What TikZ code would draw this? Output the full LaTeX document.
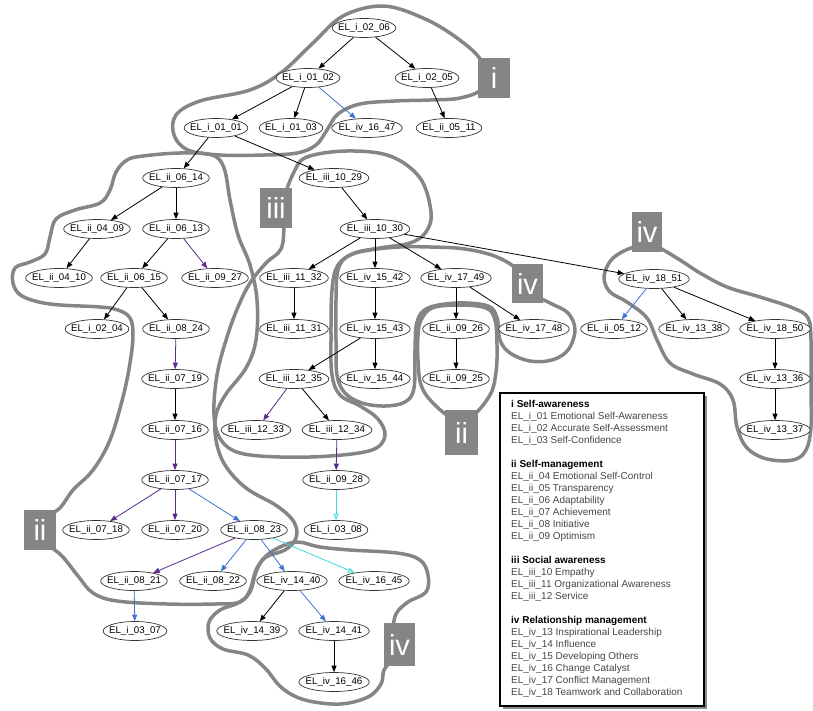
\documentclass[tikz,border=0pt]{standalone}
\usepackage{fontspec}
\setmainfont{Liberation Sans}
\usetikzlibrary{arrows.meta,shapes.geometric}
\definecolor{blobgray}{HTML}{858585}
\definecolor{edgeblue}{HTML}{3F73D0}
\definecolor{edgepurple}{HTML}{5A2A8C}
\definecolor{edgecyan}{HTML}{3FD8DC}
\newcommand\ELx[3]{EL\_#1\_#2\_#3}
\begin{document}
\begin{tikzpicture}[x=1pt,y=-1pt,
  el/.style={ellipse, draw=black!80, line width=0.7pt, fill=white,
    font=\fontsize{9.7}{11}\selectfont, inner xsep=-3.4pt, inner ysep=1.2pt,
    text height=6.8pt, text depth=2pt, minimum height=19pt},
  blob/.style={draw=blobgray, line width=3.5pt, line join=round},
  tag/.style={rectangle, fill=blobgray, text=white, font=\fontsize{29}{30}\selectfont,
    inner sep=0pt, minimum width=32pt, minimum height=40pt},
  ek/.style={draw=black, line width=0.8pt, -{Triangle[length=6.5pt,width=5pt]}},
  eb/.style={draw=edgeblue, line width=0.8pt, -{Triangle[length=6.5pt,width=5pt]}},
  ep/.style={draw=edgepurple, line width=0.8pt, -{Triangle[length=6.5pt,width=5pt]}},
  ec/.style={draw=edgecyan, line width=0.8pt, -{Triangle[length=6.5pt,width=5pt,fill=edgecyan!30]}},
  legendbox/.style={draw=black, line width=1.2pt, fill=white},
]
\useasboundingbox (0,0) rectangle (813,711);

% ---------------- blobs ----------------
% i
\draw[blob] plot[smooth cycle, tension=0.6] coordinates {
 (383,6) (423,18) (457,38) (482,62) (482,88) (460,98) (430,100) (395,101) (360,104)
 (338,114) (327,130) (316,145) (297,153) (265,155) (220,155) (188,150) (174,135)
 (176,115) (200,101) (250,90) (282,72) (313,43) (343,16)};
% ii (left)
\draw[blob] plot[smooth cycle, tension=0.6] coordinates {
 (143,156) (180,153) (212,155) (224,168) (230,200) (238,235) (250,265) (257,300)
 (256,340) (246,368) (226,394) (216,415) (216,440) (225,465) (246,488) (277,506)
 (294,522) (296,538) (285,550) (266,557) (256,570) (250,590) (240,602) (215,604)
 (167,604) (117,601) (93,593) (78,576) (62,556) (44,540) (44,520) (60,508) (73,490)
 (93,470) (110,440) (123,397) (130,363) (133,335) (130,318) (118,310) (100,307)
 (50,304) (22,296) (13,283) (15,268) (30,262) (45,254) (50,237) (56,219) (75,210)
 (100,203) (110,190) (116,172) (127,160)};
% iii
\draw[blob] plot[smooth cycle, tension=0.6] coordinates {
 (284,200) (294,172) (307,157) (347,151) (390,156) (420,178) (431,212) (426,232)
 (410,243) (380,248) (355,253) (338,265) (332,290) (331,340) (332,375) (340,395)
 (360,406) (378,419) (385,436) (372,450) (330,456) (280,457) (240,453) (221,440)
 (214,415) (217,375) (227,337) (238,307) (250,283) (266,263) (281,249) (284,225)};
% iv (middle)
\draw[blob] plot[smooth cycle, tension=0.6] coordinates {
 (520,272) (497,257) (465,249) (430,247) (400,247) (370,250) (348,256) (338,270)
 (336,300) (336,340) (337,375) (345,393) (362,403) (385,406) (405,402) (414,388)
 (415,350) (417,322) (428,308) (458,303) (488,306) (497,318) (500,340) (510,353)
 (530,361) (552,360) (568,350) (575,330) (568,313) (550,303) (530,292)};
% ii (middle)
\draw[blob] plot[smooth cycle, tension=0.6] coordinates {
 (421,320) (432,308) (458,305) (486,308) (495,320) (497,345) (496,372) (490,395)
 (470,418) (452,418) (432,402) (421,385) (418,360) (418,335)};
% iv (bottom)
\draw[blob] plot[smooth cycle, tension=0.6] coordinates {
 (297,542) (320,547) (350,550) (397,553) (420,560) (428,575) (426,592) (408,602)
 (396,614) (393,632) (393,656) (384,670) (381,684) (368,697) (340,704) (305,700)
 (282,688) (265,668) (248,655) (223,649) (210,638) (209,622) (220,610) (238,603)
 (250,592) (256,572) (264,558) (278,548)};
% iv (right)
\draw[blob] plot[smooth cycle, tension=0.6] coordinates {
 (655,246) (680,260) (700,273) (727,287) (760,297) (793,308) (808,318) (811,340)
 (811,390) (811,427) (806,450) (793,460) (767,459) (747,448) (737,427) (733,400)
 (720,384) (693,374) (670,363) (657,340) (647,318) (627,302) (610,292) (604,278)
 (609,263) (620,253) (638,246)};

% ---------------- nodes ----------------
\node[el] (i0206) at (364,28) {\ELx{i}{02}{06}};
\node[el] (i0102) at (308,78) {\ELx{i}{01}{02}};
\node[el] (i0205) at (427,78) {\ELx{i}{02}{05}};
\node[el] (i0101) at (216,128) {\ELx{i}{01}{01}};
\node[el] (i0103) at (291,128) {\ELx{i}{01}{03}};
\node[el] (iv1647) at (367,128) {\ELx{iv}{16}{47}};
\node[el] (ii0511) at (449,128) {\ELx{ii}{05}{11}};
\node[el] (ii0614) at (176,178) {\ELx{ii}{06}{14}};
\node[el] (iii1029) at (334,178) {\ELx{iii}{10}{29}};
\node[el] (ii0409) at (97,229) {\ELx{ii}{04}{09}};
\node[el] (ii0613) at (176,229) {\ELx{ii}{06}{13}};
\node[el] (iii1030) at (375,229) {\ELx{iii}{10}{30}};
\node[el] (ii0410) at (59,278) {\ELx{ii}{04}{10}};
\node[el] (ii0615) at (134,278) {\ELx{ii}{06}{15}};
\node[el] (ii0927) at (215,278) {\ELx{ii}{09}{27}};
\node[el] (iii1132) at (294,278) {\ELx{iii}{11}{32}};
\node[el] (iv1542) at (375,278) {\ELx{iv}{15}{42}};
\node[el] (iv1749) at (456,278) {\ELx{iv}{17}{49}};
\node[el] (iv1851) at (654,279) {\ELx{iv}{18}{51}};
\node[el] (i0204) at (97,329) {\ELx{i}{02}{04}};
\node[el] (ii0824) at (176,329) {\ELx{ii}{08}{24}};
\node[el] (iii1131) at (294,329) {\ELx{iii}{11}{31}};
\node[el] (iv1543) at (375,329) {\ELx{iv}{15}{43}};
\node[el] (ii0926) at (456,329) {\ELx{ii}{09}{26}};
\node[el] (iv1748) at (534,329) {\ELx{iv}{17}{48}};
\node[el] (ii0512) at (614,329) {\ELx{ii}{05}{12}};
\node[el] (iv1338) at (694,329) {\ELx{iv}{13}{38}};
\node[el] (iv1850) at (775,329) {\ELx{iv}{18}{50}};
\node[el] (ii0719) at (175,379) {\ELx{ii}{07}{19}};
\node[el] (iii1235) at (294,379) {\ELx{iii}{12}{35}};
\node[el] (iv1544) at (375,379) {\ELx{iv}{15}{44}};
\node[el] (ii0925) at (456,379) {\ELx{ii}{09}{25}};
\node[el] (iv1336) at (775,379) {\ELx{iv}{13}{36}};
\node[el] (ii0716) at (175,430) {\ELx{ii}{07}{16}};
\node[el] (iii1233) at (256,430) {\ELx{iii}{12}{33}};
\node[el] (iii1234) at (337,430) {\ELx{iii}{12}{34}};
\node[el] (iv1337) at (775,430) {\ELx{iv}{13}{37}};
\node[el] (ii0717) at (175,480) {\ELx{ii}{07}{17}};
\node[el] (ii0928) at (336,480) {\ELx{ii}{09}{28}};
\node[el] (ii0718) at (96,530) {\ELx{ii}{07}{18}};
\node[el] (ii0720) at (175,530) {\ELx{ii}{07}{20}};
\node[el] (ii0823) at (254,530) {\ELx{ii}{08}{23}};
\node[el] (i0308) at (336,530) {\ELx{i}{03}{08}};
\node[el] (ii0821) at (134,581) {\ELx{ii}{08}{21}};
\node[el] (ii0822) at (213,581) {\ELx{ii}{08}{22}};
\node[el] (iv1440) at (292,581) {\ELx{iv}{14}{40}};
\node[el] (iv1645) at (374,581) {\ELx{iv}{16}{45}};
\node[el] (i0307) at (135,631) {\ELx{i}{03}{07}};
\node[el] (iv1439) at (252,631) {\ELx{iv}{14}{39}};
\node[el] (iv1441) at (334,631) {\ELx{iv}{14}{41}};
\node[el] (iv1646) at (334,682) {\ELx{iv}{16}{46}};

% ---------------- edges ----------------
\draw[ek] (i0206) -- (i0102);
\draw[ek] (i0206) -- (i0205);
\draw[ek] (i0102) -- (i0101);
\draw[ek] (i0102) -- (i0103);
\draw[eb] (i0102) -- (iv1647);
\draw[ek] (i0205) -- (ii0511);
\draw[ek] (i0101) -- (ii0614);
\draw[ek] (i0101) -- (iii1029);
\draw[ek] (ii0614) -- (ii0409);
\draw[ek] (ii0614) -- (ii0613);
\draw[ek] (ii0409) -- (ii0410);
\draw[ek] (ii0613) -- (ii0615);
\draw[ep] (ii0613) -- (ii0927);
\draw[ek] (ii0615) -- (i0204);
\draw[ek] (ii0615) -- (ii0824);
\draw[ep] (ii0824) -- (ii0719);
\draw[ek] (ii0719) -- (ii0716);
\draw[ep] (ii0716) -- (ii0717);
\draw[ep] (ii0717) -- (ii0718);
\draw[ep] (ii0717) -- (ii0720);
\draw[eb] (ii0717) -- (ii0823);
\draw[ep] (ii0823) -- (ii0821);
\draw[eb] (ii0823) -- (ii0822);
\draw[eb] (ii0823) -- (iv1440);
\draw[ec] (ii0823) -- (iv1645);
\draw[eb] (ii0821) -- (i0307);
\draw[ek] (iv1440) -- (iv1439);
\draw[eb] (iv1440) -- (iv1441);
\draw[ek] (iv1441) -- (iv1646);
\draw[ek] (iii1029) -- (iii1030);
\draw[ek] (iii1030) -- (iii1132);
\draw[ek] (iii1030) -- (iv1542);
\draw[ek] (iii1030) -- (iv1749);
\draw[ek] (iii1030) -- (iv1851);
\draw[ek] (iii1132) -- (iii1131);
\draw[ek] (iv1542) -- (iv1543);
\draw[ek] (iv1543) -- (iii1235);
\draw[ek] (iv1543) -- (iv1544);
\draw[ep] (iii1235) -- (iii1233);
\draw[ek] (iii1235) -- (iii1234);
\draw[ep] (iii1234) -- (ii0928);
\draw[ec] (ii0928) -- (i0308);
\draw[ek] (iv1749) -- (ii0926);
\draw[ek] (iv1749) -- (iv1748);
\draw[ek] (ii0926) -- (ii0925);
\draw[eb] (iv1851) -- (ii0512);
\draw[ek] (iv1851) -- (iv1338);
\draw[ek] (iv1851) -- (iv1850);
\draw[ek] (iv1850) -- (iv1336);
\draw[ek] (iv1336) -- (iv1337);

% ---------------- cluster tags ----------------
\node[tag] (tagi) at (494,78) {i};
\node[tag] (tagiii) at (276,208) {iii};
\node[tag] (tagiia) at (40,530) {ii};
\node[tag, minimum width=30pt] (tagiva) at (647,232) {iv};
\node[tag, minimum width=31pt, minimum height=39pt] (tagivb) at (527.5,283.5) {iv};
\node[tag, minimum width=33pt, minimum height=45pt] (tagiib) at (461.5,432.5) {ii};
\node[tag, minimum width=31pt, minimum height=43pt] (tagivc) at (399.5,644.5) {iv};

% ---------------- legend ----------------
\fill[black!45] (503,396) rectangle (707,709);
\draw[legendbox] (500,393) rectangle (704,706);
\node[anchor=north west, inner sep=0pt, align=left, text=black!72,
  font=\fontsize{10}{12}\selectfont] (legend) at (511,399.7) {%
{\color{black}\bfseries i Self-awareness}\\
EL\_i\_01 Emotional Self-Awareness\\
EL\_i\_02 Accurate Self-Assessment\\
EL\_i\_03 Self-Confidence\\[12pt]
{\color{black}\bfseries ii Self-management}\\
EL\_ii\_04 Emotional Self-Control\\
EL\_ii\_05 Transparency\\
EL\_ii\_06 Adaptability\\
EL\_ii\_07 Achievement\\
EL\_ii\_08 Initiative\\
EL\_ii\_09 Optimism\\[12pt]
{\color{black}\bfseries iii Social awareness}\\
EL\_iii\_10 Empathy\\
EL\_iii\_11 Organizational Awareness\\
EL\_iii\_12 Service\\[12pt]
{\color{black}\bfseries iv Relationship management}\\
EL\_iv\_13 Inspirational Leadership\\
EL\_iv\_14 Influence\\
EL\_iv\_15 Developing Others\\
EL\_iv\_16 Change Catalyst\\
EL\_iv\_17 Conflict Management\\
EL\_iv\_18 Teamwork and Collaboration};
\end{tikzpicture}
\end{document}
